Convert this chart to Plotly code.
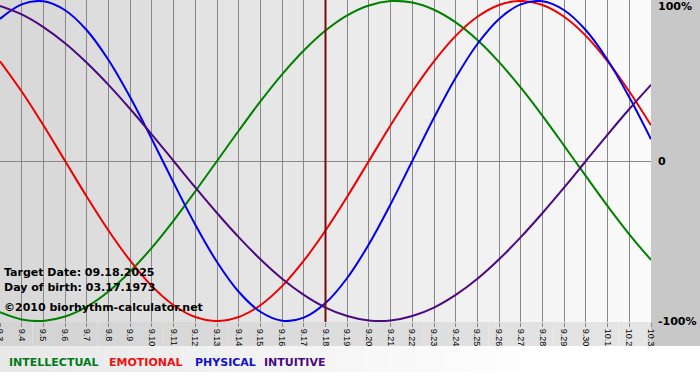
import plotly.graph_objects as go

# ---- data (one per day) ----
dates = ["9.3", "9.4", "9.5", "9.6", "9.7", "9.8", "9.9", "9.10", "9.11", "9.12",
         "9.13", "9.14", "9.15", "9.16", "9.17", "9.18", "9.19", "9.20", "9.21", "9.22",
         "9.23", "9.24", "9.25", "9.26", "9.27", "9.28", "9.29", "9.30", "10.1", "10.2", "10.3"]

intellectual = [-0.945, -0.990, -0.999, -0.972, -0.910, -0.815, -0.690, -0.541, -0.372, -0.189,
                0.000, 0.189, 0.372, 0.541, 0.690, 0.815, 0.910, 0.972, 0.999, 0.990,
                0.945, 0.866, 0.756, 0.618, 0.458, 0.282, 0.095, -0.095, -0.282, -0.458, -0.618]

emotional = [0.623, 0.434, 0.223, 0.000, -0.223, -0.434, -0.623, -0.782, -0.901, -0.975,
             -1.000, -0.975, -0.901, -0.782, -0.623, -0.434, -0.223, 0.000, 0.223, 0.434,
             0.623, 0.782, 0.901, 0.975, 1.000, 0.975, 0.901, 0.782, 0.623, 0.434, 0.223]

physical = [0.888, 0.979, 0.998, 0.942, 0.817, 0.631, 0.398, 0.136, -0.136, -0.398,
            -0.631, -0.817, -0.942, -0.998, -0.979, -0.888, -0.731, -0.520, -0.270, 0.000,
            0.270, 0.520, 0.731, 0.888, 0.979, 0.998, 0.942, 0.817, 0.631, 0.398, 0.136]

intuitive = [0.969, 0.916, 0.837, 0.736, 0.614, 0.476, 0.325, 0.165, 0.000, -0.165,
             -0.325, -0.476, -0.614, -0.736, -0.837, -0.916, -0.969, -0.997, -0.997, -0.969,
             -0.916, -0.837, -0.736, -0.614, -0.476, -0.325, -0.165, 0.000, 0.165, 0.325, 0.476]

series_names = ["INTELLECTUAL", "EMOTIONAL", "PHYSICAL", "INTUITIVE"]
series_vals = [intellectual, emotional, physical, intuitive]
line_colors = ["#008000", "#ee0000", "#0000ee", "#4b0a80"]
label_colors = ["#007a1a", "#ee1111", "#1010cc", "#4b0a80"]
target_date = "9.18"
info_lines = ["Target Date: 09.18.2025", "Day of birth: 03.17.1973", "\u00a92010 biorhythm-calculator.net"]
y_labels = ["100%", "0", "-100%"]

# ---- layout geometry ----
W, H = 700, 380
ml, mr, mt, mb = 0, 49, 0, 58
pw, ph = W - ml - mr, H - mt - mb

def px_x(p):
    return (p - ml) / pw

def px_y(p):
    return (mt + ph - p) / ph

fig = go.Figure()
for name, vals, col in zip(series_names, series_vals, line_colors):
    fig.add_trace(go.Scatter(x=dates, y=vals, mode="lines", name=name,
                             line=dict(color=col, width=2, shape="spline", smoothing=1.0),
                             hoverinfo="skip"))

shapes = []
n = len(dates) - 1
# gradient background columns in plot
for i in range(n):
    g = int(0xd8 + (0xfb - 0xd8) * (i + 0.5) / n)
    shapes.append(dict(type="rect", xref="x", yref="paper", x0=i, x1=i + 1, y0=0, y1=1,
                       fillcolor=f"rgb({g},{g},{g})", line=dict(width=0), layer="below"))
# bottom label band
nb = 20
for i in range(nb):
    g = int(0xd4 + (0xe6 - 0xd4) * i / nb)
    shapes.append(dict(type="rect", xref="paper", yref="paper", x0=i / nb, x1=(i + 1) / nb,
                       y0=px_y(346), y1=0, fillcolor=f"rgb({g},{g},{g})",
                       line=dict(width=0), layer="below"))
# legend row slight gradient
for i in range(nb):
    g = int(0xe8 + (0xff - 0xe8) * i / nb)
    shapes.append(dict(type="rect", xref="paper", yref="paper", x0=i / nb * 0.8, x1=(i + 1) / nb * 0.8,
                       y0=px_y(372), y1=px_y(346), fillcolor=f"rgb({g},{g},{g})",
                       line=dict(width=0), layer="below"))
# right panel
shapes.append(dict(type="rect", xref="paper", yref="paper", x0=1, x1=px_x(W), y0=px_y(346), y1=1,
                   fillcolor="#c8c8c8", line=dict(width=0), layer="below"))
# target date line
ti = dates.index(target_date)
shapes.append(dict(type="line", xref="x", yref="paper", x0=ti, x1=ti, y0=0, y1=1,
                   line=dict(color="#7a0a0a", width=2), layer="above"))

annotations = []
for txt, py in zip(info_lines, [272, 287, 307]):
    annotations.append(dict(text=txt, xref="paper", yref="paper", x=px_x(2), y=px_y(py),
                            xanchor="left", yanchor="middle", showarrow=False,
                            font=dict(family="DejaVu Sans", size=11, color="#000000", weight="bold")))
for lab, py in zip(y_labels, [7, 162, 321]):
    annotations.append(dict(text=lab, xref="paper", yref="paper", x=px_x(656), y=px_y(py),
                            xanchor="left", yanchor="middle", showarrow=False,
                            font=dict(family="DejaVu Sans", size=11, color="#000000", weight="bold")))
for name, col, lx in zip(series_names, label_colors, [7, 107, 193, 262]):
    annotations.append(dict(text=name, xref="paper", yref="paper", x=px_x(lx), y=px_y(362),
                            xanchor="left", yanchor="middle", showarrow=False,
                            font=dict(family="DejaVu Sans", size=11, color=col, weight="bold")))

fig.update_layout(
    width=W, height=H,
    margin=dict(l=ml, r=mr, t=mt, b=mb, pad=0, autoexpand=False),
    paper_bgcolor="#ffffff",
    plot_bgcolor="rgba(0,0,0,0)",
    showlegend=False,
    shapes=shapes,
    annotations=annotations,
    xaxis=dict(type="category", range=[0, n], showgrid=True, gridcolor="#888888", gridwidth=1,
               tickangle=90, ticks="outside", ticklen=4, tickcolor="#888888",
               tickfont=dict(family="Liberation Sans", size=9, color="#000000"),
               showline=False, zeroline=False, fixedrange=True, automargin=False),
    yaxis=dict(range=[-1.006, 1.006], showgrid=False, showticklabels=False,
               zeroline=True, zerolinecolor="#888888", zerolinewidth=1, showline=False,
               fixedrange=True, automargin=False),
)

fig.write_html("out.html", config={"displayModeBar": False},
               post_script="document.body.style.margin='0';document.body.style.overflow='hidden';")
